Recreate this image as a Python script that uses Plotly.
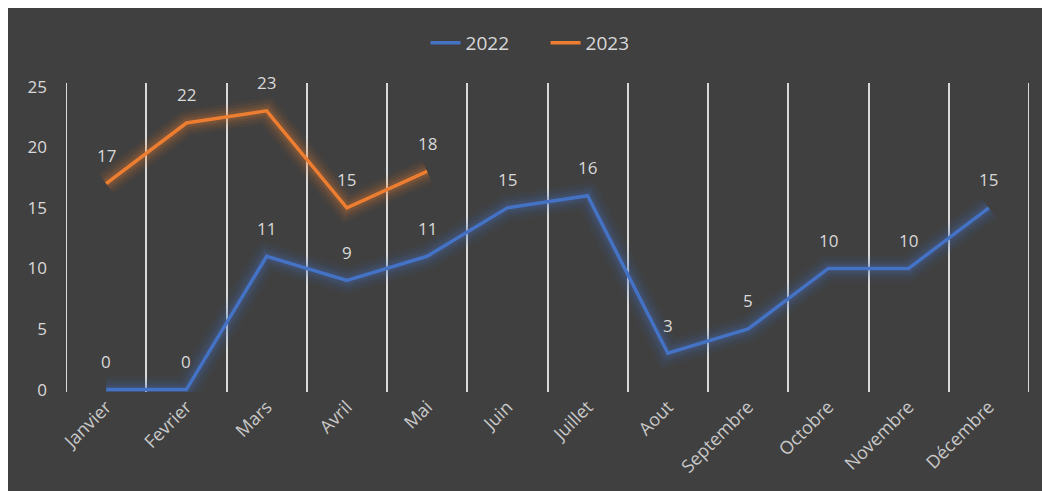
import plotly.graph_objects as go

# Monthly values
mois = ["Janvier", "Fevrier", "Mars", "Avril", "Mai", "Juin", "Juillet",
        "Aout", "Septembre", "Octobre", "Novembre", "Décembre"]
valeurs_2022 = [0, 0, 11, 9, 11, 15, 16, 3, 5, 10, 10, 15]
valeurs_2023 = [17, 22, 23, 15, 18]
y_ticks = [0, 5, 10, 15, 20, 25]

BG = "#404040"
TXT = "#d9d9d9"
GRID = "#d9d9d9"
BLUE = "#4472C4"
ORANGE = "#ED7D31"
FONT = "'Open Sans', sans-serif"

W, H = 1042, 491
L, R, T, B = 66, 13, 83, 99
plot_w = W - L - R
plot_h = H - T - B

fig = go.Figure()

series = [("2022", mois, valeurs_2022, BLUE, "68,114,196"),
          ("2023", mois[:len(valeurs_2023)], valeurs_2023, ORANGE, "237,125,49")]

# soft glow beneath each line
for name, xs, ys, col, rgb in series:
    for w, a in [(26, 0.05), (20, 0.07), (14, 0.10), (9, 0.14)]:
        fig.add_trace(go.Scatter(x=xs, y=ys, mode="lines",
                                 line=dict(color=f"rgba({rgb},{a})", width=w),
                                 hoverinfo="skip", showlegend=False))

for name, xs, ys, col, rgb in series:
    fig.add_trace(go.Scatter(x=xs, y=ys, mode="lines", name=name,
                             line=dict(color=col, width=3.5)))
    for xv, yv in zip(xs, ys):
        fig.add_annotation(x=xv, y=yv, text=str(yv), showarrow=False,
                           yshift=28, font=dict(family=FONT, size=17, color=TXT))

# boundary lines at both ends of the category axis
for xb in (-0.5, len(mois) - 0.5):
    fig.add_shape(type="line", xref="x", yref="paper", x0=xb, x1=xb, y0=0, y1=1,
                  line=dict(color=GRID, width=2), layer="below")

# white strips along the top and left edges
fig.add_shape(type="rect", xref="paper", yref="paper",
              x0=-L / plot_w, x1=(8 - L) / plot_w,
              y0=-B / plot_h, y1=(H - B) / plot_h,
              fillcolor="white", line_width=0, layer="above")
fig.add_shape(type="rect", xref="paper", yref="paper",
              x0=-L / plot_w, x1=(W - L) / plot_w,
              y0=(H - B - 8) / plot_h, y1=(H - B) / plot_h,
              fillcolor="white", line_width=0, layer="above")

fig.update_layout(
    width=W, height=H,
    margin=dict(l=L, r=R, t=T, b=B),
    paper_bgcolor=BG, plot_bgcolor=BG,
    font=dict(family=FONT, color=TXT, size=17),
    legend=dict(orientation="h", x=0.498, xanchor="center", y=(H - B - 43) / plot_h,
                yanchor="middle", font=dict(size=19, color=TXT),
                entrywidth=75, bgcolor="rgba(0,0,0,0)"),
    xaxis=dict(type="category", categoryorder="array", categoryarray=mois,
               range=[-0.5, 11.5], tickson="boundaries", showgrid=True,
               gridcolor=GRID, gridwidth=2, tickangle=-45,
               ticks="", showline=False, zeroline=False,
               tickfont=dict(size=18, color="#c8c8c8")),
    yaxis=dict(range=[-0.2, 25.3], tickvals=y_ticks, showgrid=False,
               zeroline=False, showline=False, ticks="",
               ticklabelstandoff=18, tickfont=dict(size=17, color=TXT)),
)

fig.write_html("out.html")
